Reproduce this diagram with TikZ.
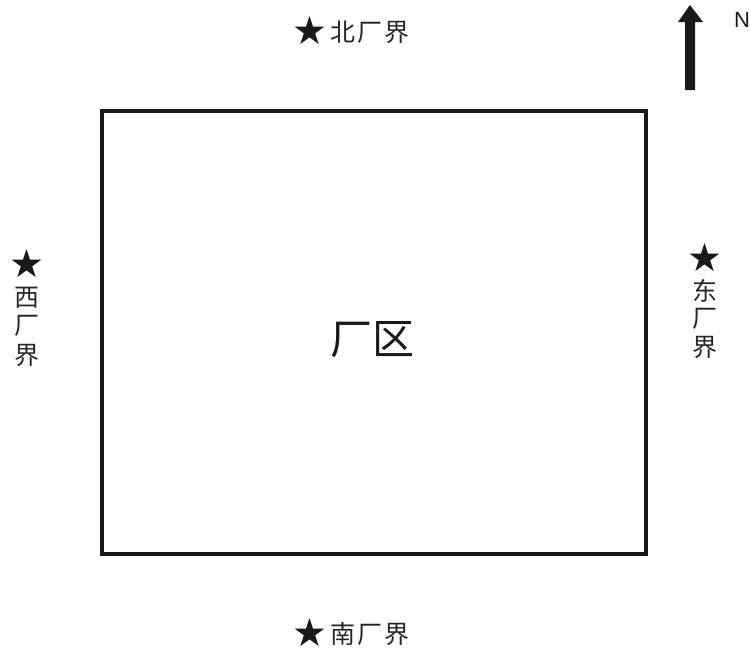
\documentclass[tikz,border=0pt]{standalone}
\usepackage{fontspec}
\newfontfamily\cjk{Noto Sans CJK SC}
\newfontfamily\sym{DejaVu Sans}
\setmainfont{Liberation Sans}
\begin{document}
\begin{tikzpicture}[x=1pt,y=-1pt,
  lbl/.style={inner sep=0pt,font=\cjk\fontsize{25}{25}\selectfont,text=black!85},
  starsym/.style={inner sep=0pt,font=\sym\fontsize{39}{39}\selectfont,text=black!90,
    text height=27.5pt,text depth=0pt}]
\useasboundingbox (0,0) rectangle (750,653);
\draw[line width=4pt,black!90] (102,111) rectangle (646,554);
\node[inner sep=0pt,font=\cjk\fontsize{42}{42}\selectfont,text=black!90] (zone) at (372,340) {厂区};
% north
\node[starsym] (sn) at (310,31) {★};
\node[lbl,anchor=west] (ln) at (330,32) {北\hspace{2pt}厂\hspace{2pt}界};
% south
\node[starsym] (ss) at (310,633) {★};
\node[lbl,anchor=west] (ls) at (330,634) {南\hspace{2pt}厂\hspace{2pt}界};
% west
\node[starsym] (sw) at (27,264) {★};
\node[lbl] (w1) at (27,298) {西};
\node[lbl] (w2) at (27,326) {厂};
\node[lbl] (w3) at (27,355) {界};
% east
\node[starsym] (se) at (705,258) {★};
\node[lbl] (e1) at (705,291) {东};
\node[lbl] (e2) at (705,319) {厂};
\node[lbl] (e3) at (705,347) {界};
% north arrow
\fill[black!90] (685,90) -- (685,22) -- (678,22) -- (690,5) -- (703,22) -- (695,22) -- (695,90) -- cycle;
\node[inner sep=0pt,font=\fontsize{22}{22}\selectfont,text=black!90] (n) at (742,20) {N};
\end{tikzpicture}
\end{document}
